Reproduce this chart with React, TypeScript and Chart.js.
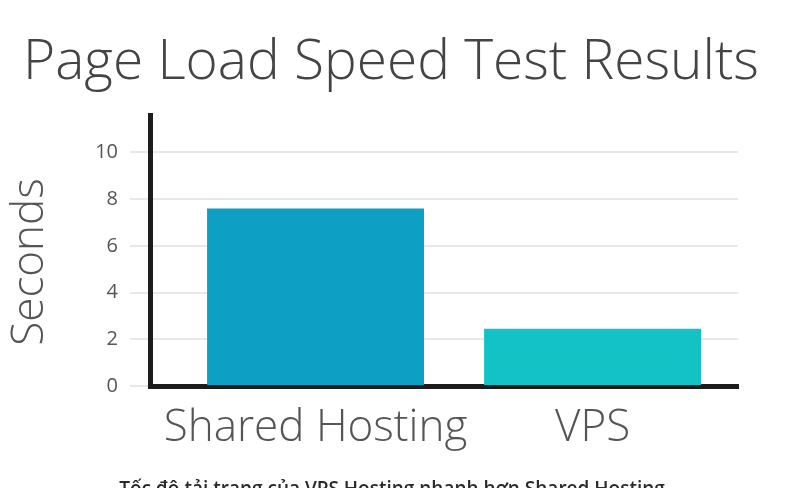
import React, { useEffect, useRef } from "react";
import { Chart, registerables } from "chart.js";

Chart.register(...registerables);

const categories = ["Shared Hosting", "VPS"];
const seconds = [7.6, 2.45];
const barColors = ["#0e9fc4", "#12c2c5"];
const yTicks = [0, 2, 4, 6, 8, 10];
const titleText = "Page Load Speed Test Results";
const yTitle = "Seconds";
const caption = "Tốc độ tải trang của VPS Hosting nhanh hơn Shared Hosting";

const FONT = "'Open Sans', 'DejaVu Sans', sans-serif";

const textPlugin = {
  id: "textPlugin",
  afterDraw(chart: any) {
    const ctx = chart.ctx;
    ctx.save();
    // title
    ctx.font = `300 55px ${FONT}`;
    ctx.fillStyle = "#444";
    ctx.textAlign = "center";
    ctx.textBaseline = "alphabetic";
    ctx.fillText(titleText, 391, 79);
    // y-axis title
    ctx.save();
    ctx.translate(30, 262);
    ctx.rotate(-Math.PI / 2);
    ctx.font = `300 44px ${FONT}`;
    ctx.fillStyle = "#555";
    ctx.textBaseline = "middle";
    ctx.fillText(yTitle, 0, 0);
    ctx.restore();
    // caption
    ctx.font = `600 19px ${FONT}`;
    ctx.fillStyle = "#2a2a2a";
    ctx.textAlign = "center";
    ctx.textBaseline = "top";
    ctx.fillText(caption, 392, 480);
    ctx.restore();
  },
};

export default function App() {
  const ref = useRef<HTMLCanvasElement | null>(null);
  useEffect(() => {
    if (!ref.current) return;
    const chart = new Chart(ref.current, {
      type: "bar",
      data: {
        datasets: [
          {
            data: seconds.map((v, i) => ({ x: i, y: v })),
            backgroundColor: barColors,
            borderWidth: 0,
            categoryPercentage: 1,
            barPercentage: 0.783,
          },
        ],
      },
      options: {
        responsive: false,
        animation: false,
        layout: { padding: { left: 0, right: 62, top: 115, bottom: 0 } },
        plugins: {
          legend: { display: false },
          tooltip: { enabled: false },
          title: { display: false },
        },
        scales: {
          x: {
            type: "linear",
            offset: false,
            min: -0.5975,
            max: 1.525,
            afterBuildTicks: (scale: any) => {
              scale.ticks = categories.map((_, i) => ({ value: i }));
            },
            afterFit: (scale: any) => {
              scale.height = 102;
            },
            grid: { display: false, drawTicks: false, offset: false },
            border: { display: true, color: "#1c1c1c", width: 5 },
            ticks: {
              color: "#555",
              padding: 16,
              maxRotation: 0,
              minRotation: 0,
              autoSkip: false,
              font: { family: FONT, size: 44, weight: "300" as any },
              callback: (v: any) => categories[v] ?? "",
            },
          },
          y: {
            min: 0,
            max: 11.6,
            afterBuildTicks: (scale: any) => {
              scale.ticks = yTicks.map((v) => ({ value: v }));
            },
            afterFit: (scale: any) => {
              scale.width = 150;
            },
            grid: { color: "#e8e8e8", lineWidth: 2, tickLength: 20 },
            border: { display: true, color: "#1c1c1c", width: 5 },
            ticks: {
              color: "#555",
              padding: 12,
              font: { family: FONT, size: 20 },
            },
          },
        },
      },
      plugins: [textPlugin],
    });
    return () => chart.destroy();
  }, []);
  return (
    <div style={{ position: "fixed", left: 0, top: 0, width: 800, height: 488, background: "#fff" }}>
      <canvas ref={ref} width={800} height={488} style={{ display: "block" }} />
    </div>
  );
}
